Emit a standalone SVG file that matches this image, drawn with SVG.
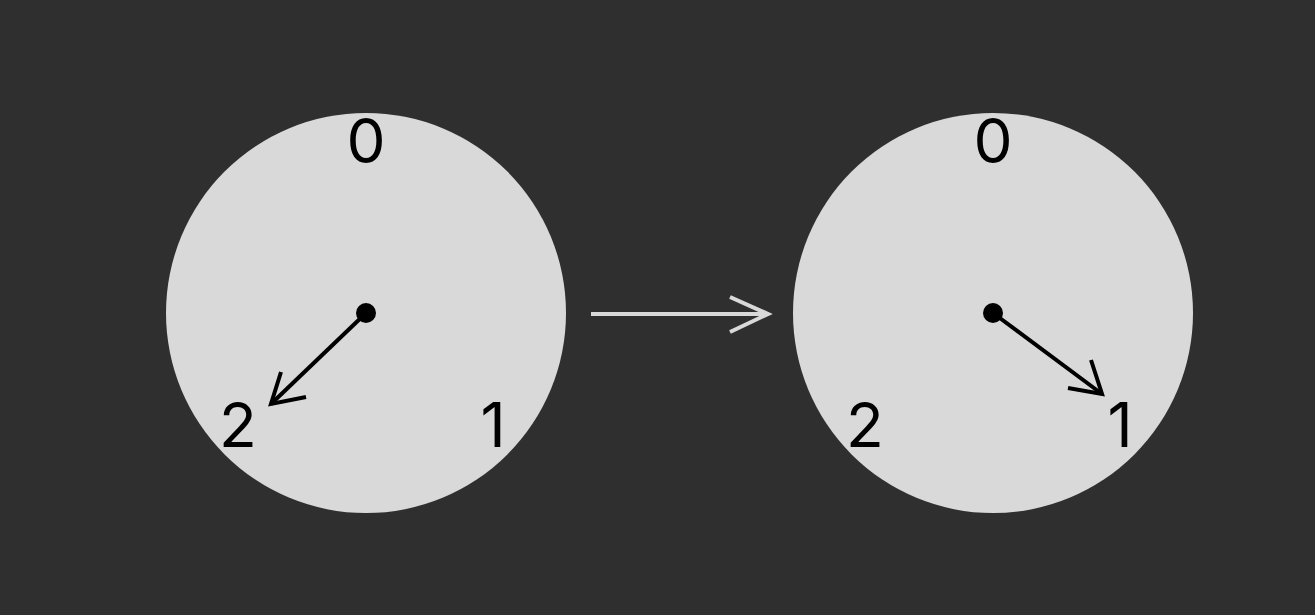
<svg xmlns="http://www.w3.org/2000/svg" width="1315" height="615" viewBox="0 0 1315 615">
<style>
.dial{fill:#d9d9d9}
.num{font-family:Inter,"Liberation Sans",sans-serif;font-size:62px;fill:#000;text-anchor:middle}
.hand{stroke:#000;stroke-width:4;fill:none;stroke-linecap:butt}
.conn{stroke:#d9d9d9;stroke-width:4;fill:none}
</style>
<rect width="1315" height="615" fill="#2f2f2f"/>
<g id="clock-left">
<circle class="dial" cx="366" cy="313" r="200"/>
<text class="num" x="366" y="163">0</text>
<text class="num" x="493" y="447">1</text>
<text class="num" x="238" y="447">2</text>
<circle cx="366" cy="313" r="10" fill="#000"/>
<path class="hand" d="M366 313 L271 404"/>
<path class="hand" d="M281 372 L271 404 L306 397"/>
</g>
<g id="clock-right">
<circle class="dial" cx="993" cy="313" r="200"/>
<text class="num" x="993" y="163">0</text>
<text class="num" x="1120" y="447">1</text>
<text class="num" x="865" y="447">2</text>
<circle cx="993" cy="313" r="10" fill="#000"/>
<path class="hand" d="M993 313 L1102 394"/>
<path class="hand" d="M1068 388 L1102 394 L1091 360"/>
</g>
<g id="connectors">
<path class="conn" d="M591 314 L768 314"/>
<path class="conn" d="M730 297 L768 314 L730 332"/>
</g>
</svg>
